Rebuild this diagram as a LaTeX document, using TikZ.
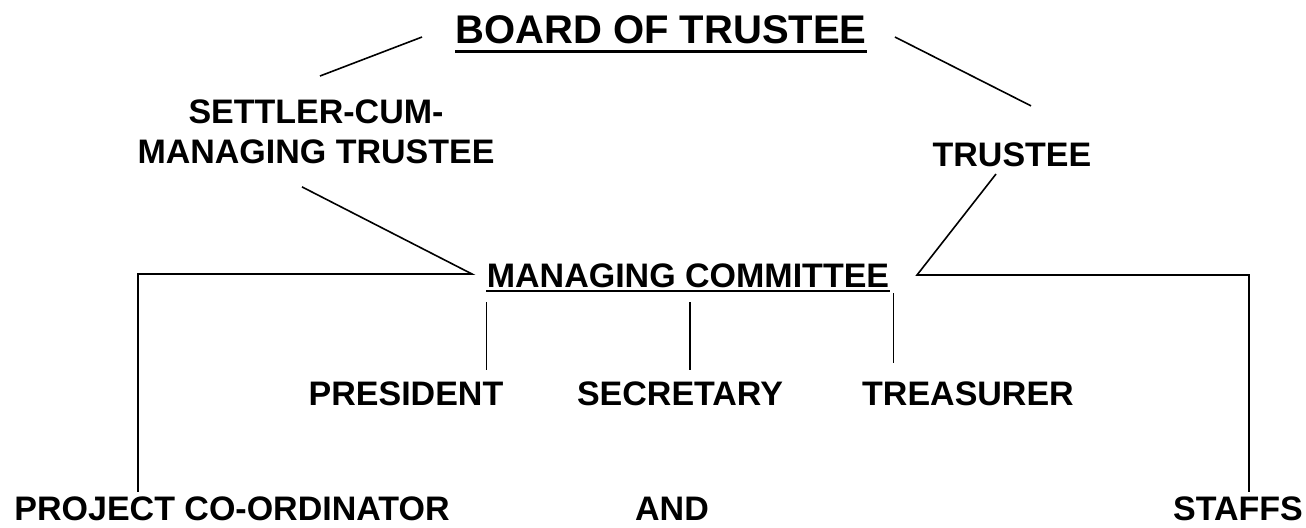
\documentclass[tikz,border=0pt]{standalone}
\usepackage{fontspec}
\setmainfont{Liberation Sans}
\newcommand\lbl{\fontsize{17}{20}\selectfont\bfseries}
\newcommand\ttl{\fontsize{20}{24}\selectfont\bfseries}
\begin{document}
\begin{tikzpicture}[x=0.5pt,y=-0.5pt]
        \useasboundingbox (0,0) rectangle (1306,527);
        \begin{scope}[every node/.style={inner sep=0pt,anchor=base,font=\lbl}]
            \node[font=\ttl] (board) at (661,43) {BOARD OF TRUSTEE};
            \node[anchor=north,align=center] (settler) at (316,99) {SETTLER-CUM-\\MANAGING TRUSTEE};
            \node (trustee)   at (1012,166) {TRUSTEE};
            \node (committee) at (688,287)  {MANAGING COMMITTEE};
            \node (president) at (406,405)  {PRESIDENT};
            \node (secretary) at (680,405)  {SECRETARY};
            \node (treasurer) at (968,405)  {TREASURER};
            \node (coord)     at (232,520)  {PROJECT CO-ORDINATOR};
            \node (and)       at (672,520)  {AND};
            \node (staffs)    at (1238,520) {STAFFS};
        \end{scope}
        \coordinate (lj) at (472,274);
        \coordinate (lc) at (138,274);
        \coordinate (rj) at (917,275);
        \coordinate (rc) at (1249,275);
        \draw[line width=1.5pt] ([yshift=-4pt]board.base west)--([yshift=-4pt]board.base east);
        \draw[line width=1.2pt] ([yshift=-2pt]committee.base west)--([yshift=-2pt]committee.base east);
        \begin{scope}[line width=0.8pt]
            \draw ([xshift=-16.5pt,yshift=3pt]board.base west)--([xshift=2pt,yshift=11.5pt]settler.north);
            \draw ([xshift=14pt,yshift=3pt]board.base east)--([xshift=9.5pt,yshift=18pt]trustee.north);
            \draw ([xshift=-7pt,yshift=-11.5pt]settler.south)--(lj)--(lc)--([yshift=2pt]lc |- coord.north);
            \draw ([xshift=-8pt,yshift=-4pt]trustee.base)--(rj)--(rc)--([yshift=2pt]rc |- staffs.north);
            \draw ([yshift=-7.5pt]committee.base west)--([yshift=5.5pt]committee.base west |- president.north);
            \draw ([xshift=1pt,yshift=-7.5pt]committee.base)--([xshift=1pt,yshift=5.5pt]committee.base |- secretary.north);
            \draw ([xshift=2pt,yshift=-3pt]committee.base east)--([xshift=2pt,yshift=9pt]committee.base east |- treasurer.north);
        \end{scope}
    \end{tikzpicture}
\end{document}
